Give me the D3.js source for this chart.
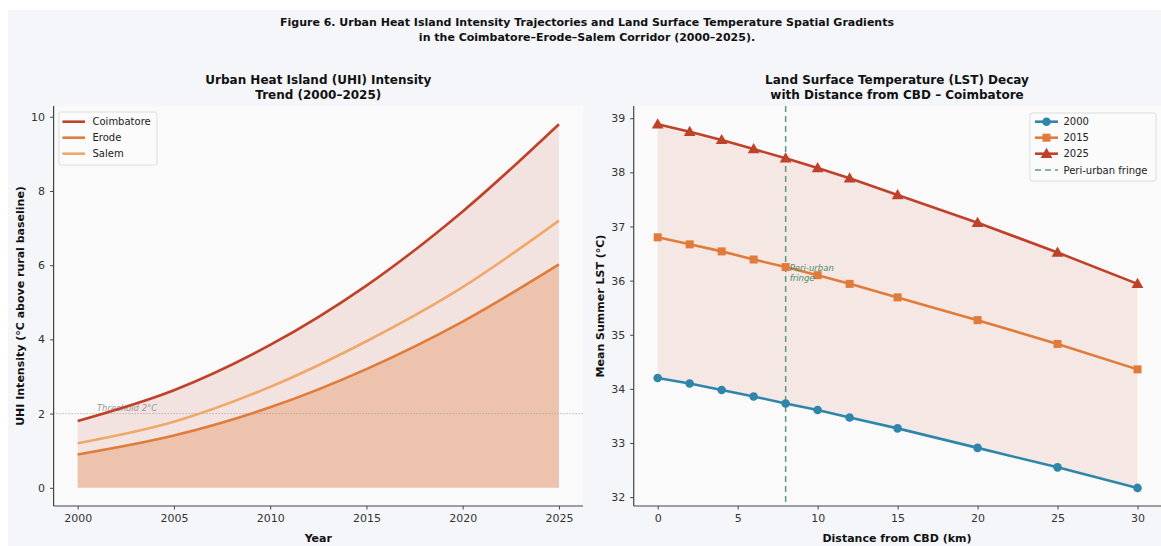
<!DOCTYPE html>
<html><head><meta charset="utf-8">
<script src="https://cdn.jsdelivr.net/npm/d3@7"></script>
<style>
body{margin:0;background:#fff;}
text{font-family:"DejaVu Sans",sans-serif;}
</style></head>
<body>
<svg id="c" width="1161" height="546"></svg>
<script>
// ---------- DATA ----------
const years = [2000, 2005, 2010, 2015, 2020, 2025];
const coimbatore = [1.8, 2.63, 3.85, 5.45, 7.45, 9.8];
const erode = [0.9, 1.41, 2.17, 3.2, 4.48, 6.02];
const salem = [1.2, 1.78, 2.72, 3.95, 5.41, 7.2];
const uhiTicksX = [2000, 2005, 2010, 2015, 2020, 2025];
const uhiTicksY = [0, 2, 4, 6, 8, 10];
const threshold = 2;

const distances = [0, 2, 4, 6, 8, 10, 12, 15, 20, 25, 30];
const lst2000 = [34.2, 34.1, 33.98, 33.86, 33.73, 33.61, 33.47, 33.27, 32.91, 32.55, 32.17];
const lst2015 = [36.8, 36.67, 36.54, 36.39, 36.25, 36.1, 35.94, 35.69, 35.27, 34.83, 34.36];
const lst2025 = [38.89, 38.75, 38.6, 38.43, 38.26, 38.08, 37.89, 37.58, 37.07, 36.52, 35.94];
const lstTicksX = [0, 5, 10, 15, 20, 25, 30];
const lstTicksY = [32, 33, 34, 35, 36, 37, 38, 39];
const fringeKm = 8;

// ---------- SETUP ----------
const svg = d3.select("#c");
svg.append("rect").attr("x", 8).attr("y", 10).attr("width", 1153).attr("height", 536).attr("fill", "#f5f6fa");

svg.append("text").attr("x", 587).attr("y", 26).attr("text-anchor", "middle")
  .attr("font-size", 11).attr("font-weight", "bold").attr("fill", "#111")
  .text("Figure 6. Urban Heat Island Intensity Trajectories and Land Surface Temperature Spatial Gradients");
svg.append("text").attr("x", 587).attr("y", 41).attr("text-anchor", "middle")
  .attr("font-size", 11).attr("font-weight", "bold").attr("fill", "#111")
  .text("in the Coimbatore\u2013Erode\u2013Salem Corridor (2000\u20132025).");

const C_RED = "#c0412a", C_ORG = "#e07b39", C_LOR = "#f0a868", C_BLUE = "#2e86ab", C_GRN = "#5b9a82";

function panel(x0, x1, y0, y1) {
  svg.append("rect").attr("x", x0).attr("y", y0).attr("width", x1 - x0).attr("height", y1 - y0).attr("fill", "#fafafa");
}
function spines(g, x0, x1, y0, y1) {
  svg.append("line").attr("x1", x0).attr("x2", x0).attr("y1", y0).attr("y2", y1).attr("stroke", "#444").attr("stroke-width", 1.2);
  svg.append("line").attr("x1", x0).attr("x2", x1).attr("y1", y1).attr("y2", y1).attr("stroke", "#444").attr("stroke-width", 1.2);
}
function styleAxis(g) {
  g.select(".domain").remove();
  g.selectAll(".tick line").attr("stroke", "#444");
  g.selectAll(".tick text").attr("font-size", 11).attr("fill", "#333").attr("font-family", "DejaVu Sans");
}

// ---------- LEFT PANEL ----------
const L = {x0: 53.6, x1: 583, y0: 106, y1: 506};
panel(L.x0, L.x1, L.y0, L.y1);
const xL = d3.scaleLinear().domain([1998.75, 2026.25]).range([L.x0, L.x1]);
const yL = d3.scaleLinear().domain([-0.49, 10.29]).range([L.y1, L.y0]);
const curve = d3.curveCatmullRom.alpha(0.5);

const dC = years.map((y, i) => ({x: y, v: coimbatore[i]}));
const dE = years.map((y, i) => ({x: y, v: erode[i]}));
const dS = years.map((y, i) => ({x: y, v: salem[i]}));

const area0 = d3.area().x(d => xL(d.x)).y0(yL(0)).y1(d => yL(d.v)).curve(curve);
svg.append("path").datum(dC).attr("d", area0).attr("fill", C_RED).attr("fill-opacity", 0.12);
svg.append("path").datum(dE).attr("d", area0).attr("fill", C_ORG).attr("fill-opacity", 0.3);

svg.append("line").attr("x1", L.x0).attr("x2", L.x1).attr("y1", yL(threshold)).attr("y2", yL(threshold))
  .attr("stroke", "#999").attr("stroke-width", 1).attr("stroke-dasharray", "1,2");
svg.append("text").attr("x", xL(2001)).attr("y", yL(threshold) - 3).attr("font-size", 8.5)
  .attr("font-style", "italic").attr("fill", "#999").text("Threshold 2\u00b0C");

const lineL = d3.line().x(d => xL(d.x)).y(d => yL(d.v)).curve(curve);
[[dC, C_RED], [dS, C_LOR], [dE, C_ORG]].forEach(([d, c]) => {
  svg.append("path").datum(d).attr("d", lineL).attr("fill", "none").attr("stroke", c).attr("stroke-width", 2.6);
});

const gxL = svg.append("g").attr("transform", `translate(0,${L.y1})`)
  .call(d3.axisBottom(xL).tickValues(uhiTicksX).tickFormat(d3.format("d")).tickSize(3.5).tickPadding(5));
styleAxis(gxL);
const gyL = svg.append("g").attr("transform", `translate(${L.x0},0)`)
  .call(d3.axisLeft(yL).tickValues(uhiTicksY).tickSize(3.5).tickPadding(5));
styleAxis(gyL);
spines(null, L.x0, L.x1, L.y0, L.y1);

svg.append("text").attr("x", (L.x0 + L.x1) / 2).attr("y", 84).attr("text-anchor", "middle")
  .attr("font-size", 12).attr("font-weight", "bold").attr("fill", "#111").text("Urban Heat Island (UHI) Intensity");
svg.append("text").attr("x", (L.x0 + L.x1) / 2).attr("y", 99).attr("text-anchor", "middle")
  .attr("font-size", 12).attr("font-weight", "bold").attr("fill", "#111").text("Trend (2000\u20132025)");
svg.append("text").attr("x", (L.x0 + L.x1) / 2).attr("y", 542).attr("text-anchor", "middle")
  .attr("font-size", 11).attr("font-weight", "bold").attr("fill", "#111").text("Year");
svg.append("text").attr("transform", `translate(24,${(L.y0 + L.y1) / 2}) rotate(-90)`).attr("text-anchor", "middle")
  .attr("font-size", 11).attr("font-weight", "bold").attr("fill", "#111").text("UHI Intensity (\u00b0C above rural baseline)");

// legend left
const lgL = svg.append("g");
lgL.append("rect").attr("x", 59).attr("y", 112).attr("width", 98).attr("height", 53).attr("rx", 2)
  .attr("fill", "#fafafa").attr("fill-opacity", 0.85).attr("stroke", "#ddd");
[["Coimbatore", C_RED], ["Erode", C_ORG], ["Salem", C_LOR]].forEach(([n, c], i) => {
  const yy = 121.7 + i * 16;
  lgL.append("line").attr("x1", 62.5).attr("x2", 85).attr("y1", yy).attr("y2", yy).attr("stroke", c).attr("stroke-width", 2.6);
  lgL.append("text").attr("x", 92.5).attr("y", yy + 3.6).attr("font-size", 10).attr("fill", "#222").text(n);
});

// ---------- RIGHT PANEL ----------
const R = {x0: 633.7, x1: 1161.5, y0: 106, y1: 506};
panel(R.x0, R.x1, R.y0, R.y1);
const xR = d3.scaleLinear().domain([-1.5, 31.5]).range([R.x0, R.x1]);
const yR = d3.scaleLinear().domain([31.836, 39.226]).range([R.y1, R.y0]);

const band = distances.map((d, i) => ({x: d, lo: lst2000[i], hi: lst2025[i]}));
svg.append("path").datum(band)
  .attr("d", d3.area().x(d => xR(d.x)).y0(d => yR(d.lo)).y1(d => yR(d.hi)))
  .attr("fill", C_RED).attr("fill-opacity", 0.1);

svg.append("line").attr("x1", xR(fringeKm)).attr("x2", xR(fringeKm)).attr("y1", R.y0).attr("y2", R.y1)
  .attr("stroke", C_GRN).attr("stroke-width", 1.5).attr("stroke-dasharray", "6,4");

const lineR = d3.line().x(d => xR(d.x)).y(d => yR(d.v));
const seriesR = [
  {name: "2000", vals: lst2000, color: C_BLUE, marker: "circle"},
  {name: "2015", vals: lst2015, color: C_ORG, marker: "square"},
  {name: "2025", vals: lst2025, color: C_RED, marker: "triangle"}
];
function marker(g, type, cx, cy, color) {
  if (type === "circle") g.append("circle").attr("cx", cx).attr("cy", cy).attr("r", 4.3).attr("fill", color);
  else if (type === "square") g.append("rect").attr("x", cx - 4).attr("y", cy - 4).attr("width", 8).attr("height", 8).attr("fill", color);
  else g.append("path").attr("d", d3.symbol(d3.symbolTriangle, 60)()).attr("transform", `translate(${cx},${cy + 0.8})`).attr("fill", color);
}
seriesR.forEach(s => {
  const d = distances.map((x, i) => ({x, v: s.vals[i]}));
  svg.append("path").datum(d).attr("d", lineR).attr("fill", "none").attr("stroke", s.color).attr("stroke-width", 2.6);
  const g = svg.append("g");
  d.forEach(p => marker(g, s.marker, xR(p.x), yR(p.v), s.color));
});

svg.append("text").attr("x", xR(fringeKm) + 4).attr("y", 271).attr("font-size", 8.5).attr("font-style", "italic")
  .attr("fill", "#4a8a6a").text("Peri-urban");
svg.append("text").attr("x", xR(fringeKm) + 4).attr("y", 281).attr("font-size", 8.5).attr("font-style", "italic")
  .attr("fill", "#4a8a6a").text("fringe");

const gxR = svg.append("g").attr("transform", `translate(0,${R.y1})`)
  .call(d3.axisBottom(xR).tickValues(lstTicksX).tickSize(3.5).tickPadding(5));
styleAxis(gxR);
const gyR = svg.append("g").attr("transform", `translate(${R.x0},0)`)
  .call(d3.axisLeft(yR).tickValues(lstTicksY).tickSize(3.5).tickPadding(5));
styleAxis(gyR);
spines(null, R.x0, R.x1, R.y0, R.y1);

const cxR = (R.x0 + 1161) / 2;
svg.append("text").attr("x", 897).attr("y", 84).attr("text-anchor", "middle")
  .attr("font-size", 12).attr("font-weight", "bold").attr("fill", "#111").text("Land Surface Temperature (LST) Decay");
svg.append("text").attr("x", 897).attr("y", 99).attr("text-anchor", "middle")
  .attr("font-size", 12).attr("font-weight", "bold").attr("fill", "#111").text("with Distance from CBD \u2013 Coimbatore");
svg.append("text").attr("x", 897).attr("y", 542).attr("text-anchor", "middle")
  .attr("font-size", 11).attr("font-weight", "bold").attr("fill", "#111").text("Distance from CBD (km)");
svg.append("text").attr("transform", `translate(604,${(R.y0 + R.y1) / 2}) rotate(-90)`).attr("text-anchor", "middle")
  .attr("font-size", 11).attr("font-weight", "bold").attr("fill", "#111").text("Mean Summer LST (\u00b0C)");

// legend right
const lgR = svg.append("g");
lgR.append("rect").attr("x", 1030).attr("y", 113).attr("width", 126).attr("height", 68).attr("rx", 2)
  .attr("fill", "#fafafa").attr("fill-opacity", 0.85).attr("stroke", "#ddd");
seriesR.forEach((s, i) => {
  const yy = 121.7 + i * 16;
  lgR.append("line").attr("x1", 1035).attr("x2", 1058).attr("y1", yy).attr("y2", yy).attr("stroke", s.color).attr("stroke-width", 2.6);
  marker(lgR, s.marker, 1046.5, yy, s.color);
  lgR.append("text").attr("x", 1063.5).attr("y", yy + 3.6).attr("font-size", 10).attr("fill", "#222").text(s.name);
});
lgR.append("line").attr("x1", 1035).attr("x2", 1058).attr("y1", 170).attr("y2", 170).attr("stroke", C_GRN)
  .attr("stroke-width", 1.5).attr("stroke-dasharray", "6,4");
lgR.append("text").attr("x", 1063.5).attr("y", 173.6).attr("font-size", 10).attr("fill", "#222").text("Peri-urban fringe");
</script>
</body></html>
